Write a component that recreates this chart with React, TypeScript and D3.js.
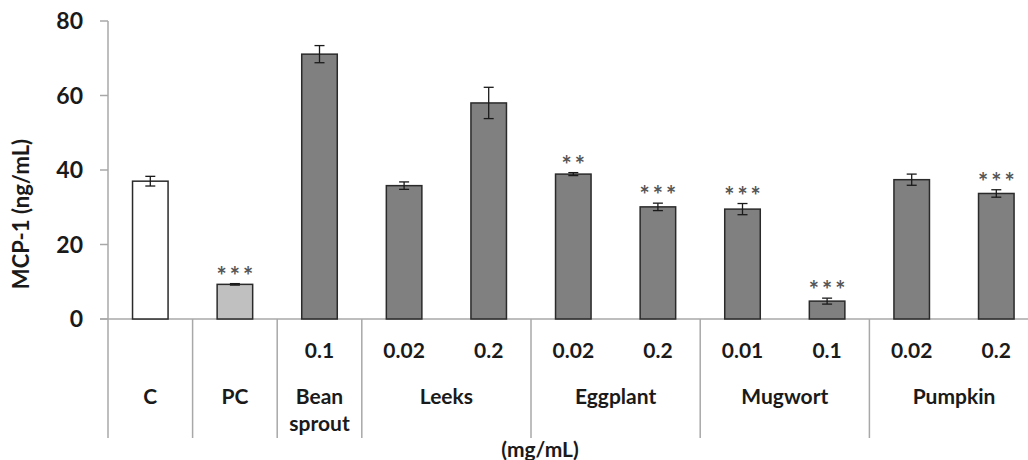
import React from 'react';
import * as d3 from 'd3';

// groups and the bars in each
const groups = ['C', 'PC', 'Bean sprout', 'Leeks', 'Eggplant', 'Mugwort', 'Pumpkin'];
const groupOf = [0, 1, 2, 3, 3, 4, 4, 5, 5, 6, 6];
const doses = ['', '', '0.1', '0.02', '0.2', '0.02', '0.2', '0.01', '0.1', '0.02', '0.2'];
const means = [37.0, 9.3, 71.1, 35.8, 58.0, 38.9, 30.1, 29.5, 4.8, 37.4, 33.7];
const errors = [1.3, 0.2, 2.3, 1.0, 4.2, 0.4, 1.0, 1.5, 0.8, 1.5, 1.0];
const stars = ['', '***', '', '', '', '**', '***', '***', '***', '', '***'];
const yTicks = [0, 20, 40, 60, 80];

const W = 1028;
const H = 460;
const FONT = 'Lato, "Open Sans", sans-serif';
const TXT = '#1a1a1a';
const AXIS = '#a8a8a8';

export default function App() {
  const x = d3.scaleBand<number>()
    .domain(d3.range(means.length))
    .range([108, 108 + 84.6 * means.length])
    .padding(0);
  const y = d3.scaleLinear().domain([0, 80]).range([319, 21]);
  const bw = x.bandwidth() * 0.42;

  const fillOf = (i: number) => (i === 0 ? '#ffffff' : i === 1 ? '#c0c0c0' : '#808080');

  // group boundaries (divider lines below the axis)
  const bounds: number[] = [];
  for (let i = 1; i < means.length; i++) {
    if (groupOf[i] !== groupOf[i - 1]) bounds.push(x(i)!);
  }
  bounds.push(x(means.length - 1)! + x.bandwidth());

  const groupCenters = groups.map((g, gi) => {
    const idx = groupOf.map((v, i) => (v === gi ? i : -1)).filter((i) => i >= 0);
    const a = x(idx[0])!;
    const b = x(idx[idx.length - 1])! + x.bandwidth();
    return (a + b) / 2;
  });

  return (
    <div style={{ position: 'fixed', left: 0, top: 0, background: '#fff' }}>
      <svg width={W} height={H} style={{ display: 'block' }} fontFamily={FONT}>
        <rect width={W} height={H} fill="#fff" />

        {/* y axis */}
        <line x1={108} x2={108} y1={y(80)} y2={438} stroke={AXIS} strokeWidth={1.5} />
        {yTicks.map((t) => (
          <g key={t}>
            <line x1={100} x2={108} y1={y(t)} y2={y(t)} stroke={AXIS} strokeWidth={1.5} />
            <text x={83} y={y(t)} dy="0.36em" textAnchor="end" fontSize={23} fontWeight="bold" fill={TXT}>
              {t}
            </text>
          </g>
        ))}
        <text
          transform={`translate(29, 214) rotate(-90)`}
          textAnchor="middle"
          fontSize={22}
          fontWeight="bold"
          fill={TXT}
        >
          MCP-1 (ng/mL)
        </text>

        {/* x axis and group dividers */}
        <line x1={100} x2={W} y1={y(0)} y2={y(0)} stroke={AXIS} strokeWidth={1.5} />
        {bounds.map((b, i) => (
          <line key={i} x1={b} x2={b} y1={y(0)} y2={438} stroke={AXIS} strokeWidth={1.5} />
        ))}

        {/* bars */}
        {means.map((m, i) => {
          const cx = x(i)! + x.bandwidth() / 2;
          const top = y(m + errors[i]);
          return (
            <g key={i}>
              <rect
                x={cx - bw / 2}
                y={y(m)}
                width={bw}
                height={y(0) - y(m)}
                fill={fillOf(i)}
                stroke="#2a2a2a"
                strokeWidth={1.5}
              />
              <line x1={cx} x2={cx} y1={y(m + errors[i])} y2={y(m - errors[i])} stroke="#1a1a1a" strokeWidth={1.3} />
              <line x1={cx - 5} x2={cx + 5} y1={y(m + errors[i])} y2={y(m + errors[i])} stroke="#1a1a1a" strokeWidth={1.3} />
              <line x1={cx - 5} x2={cx + 5} y1={y(m - errors[i])} y2={y(m - errors[i])} stroke="#1a1a1a" strokeWidth={1.3} />
              {stars[i] && (
                <text x={cx + 1.5} y={top + 1} textAnchor="middle" fontSize={24} fontWeight="bold" fill="#555" letterSpacing={3}>
                  {stars[i]}
                </text>
              )}
              {doses[i] && (
                <text x={cx} y={350} dy="0.36em" textAnchor="middle" fontSize={21} fontWeight="bold" fill={TXT}>
                  {doses[i]}
                </text>
              )}
            </g>
          );
        })}

        {/* group labels */}
        {groups.map((g, gi) => {
          const words = g.split(' ');
          return (
            <text key={g} x={groupCenters[gi]} y={396} textAnchor="middle" fontSize={21} fontWeight="bold" fill={TXT}>
              {words.map((w, k) => (
                <tspan key={k} x={groupCenters[gi]} dy={k === 0 ? '0.36em' : 27}>
                  {w}
                </tspan>
              ))}
            </text>
          );
        })}

        <text x={540} y={449} dy="0.36em" textAnchor="middle" fontSize={21} fontWeight="bold" fill={TXT}>
          (mg/mL)
        </text>
      </svg>
    </div>
  );
}
